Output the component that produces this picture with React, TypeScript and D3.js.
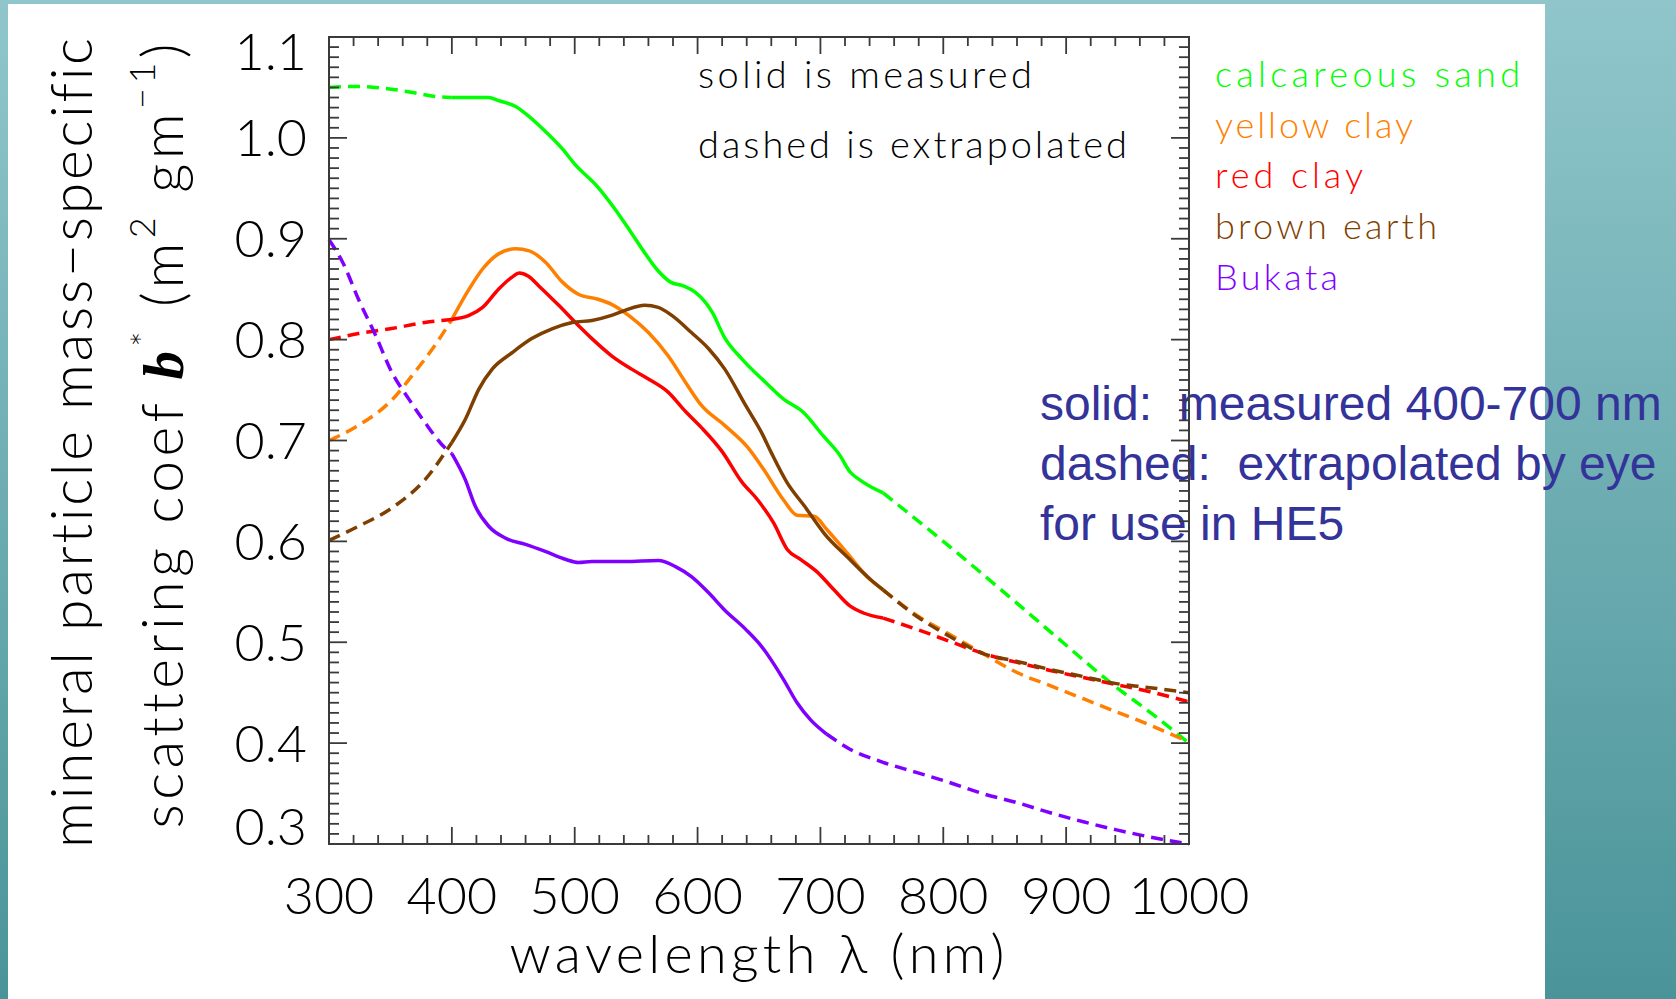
import React from 'react';
import * as d3 from 'd3';

const W = 1676;
const H = 999;

// axis ticks
const xTickValues = [300, 400, 500, 600, 700, 800, 900, 1000];
const xTickLabels = ['300', '400', '500', '600', '700', '800', '900', '1000'];
const yTickValues = [0.3, 0.4, 0.5, 0.6, 0.7, 0.8, 0.9, 1.0, 1.1];
const yTickLabels = ['0.3', '0.4', '0.5', '0.6', '0.7', '0.8', '0.9', '1.0', '1.1'];

// calcareous sand
const sandWl = [300, 320, 346, 368, 387, 400, 430, 438, 452, 460, 473, 490, 500, 519, 533, 546, 557, 568, 578, 589, 598, 612, 622, 636, 655, 670, 686, 702, 716, 724, 732, 751, 800, 850, 900, 936, 970, 1000];
const sandB = [1.050, 1.051, 1.049, 1.045, 1.041, 1.040, 1.040, 1.037, 1.031, 1.024, 1.010, 0.989, 0.974, 0.951, 0.929, 0.906, 0.886, 0.868, 0.857, 0.853, 0.847, 0.827, 0.802, 0.781, 0.758, 0.741, 0.728, 0.705, 0.685, 0.669, 0.661, 0.648, 0.600, 0.549, 0.497, 0.460, 0.429, 0.400];

// yellow clay
const yellowWl = [300, 324, 351, 370, 386, 400, 414, 425, 438, 452, 463, 476, 490, 503, 519, 530, 546, 560, 576, 590, 603, 622, 641, 654, 670, 681, 695, 705, 722, 738, 751, 778, 805, 832, 860, 887, 914, 941, 968, 1000];
const yellowB = [0.700, 0.715, 0.740, 0.768, 0.794, 0.820, 0.850, 0.870, 0.885, 0.890, 0.888, 0.877, 0.857, 0.845, 0.840, 0.835, 0.822, 0.807, 0.784, 0.758, 0.735, 0.715, 0.693, 0.671, 0.641, 0.626, 0.625, 0.612, 0.588, 0.565, 0.552, 0.527, 0.508, 0.489, 0.470, 0.457, 0.444, 0.431, 0.418, 0.401];

// red clay
const redWl = [300, 324, 351, 378, 400, 414, 425, 438, 449, 455, 462, 471, 487, 503, 514, 530, 546, 560, 576, 590, 603, 620, 636, 649, 662, 673, 684, 697, 711, 724, 735, 751, 778, 805, 832, 860, 887, 914, 941, 968, 1000];
const redB = [0.800, 0.806, 0.811, 0.817, 0.820, 0.824, 0.832, 0.850, 0.862, 0.866, 0.863, 0.853, 0.834, 0.814, 0.801, 0.784, 0.771, 0.761, 0.748, 0.729, 0.713, 0.689, 0.659, 0.641, 0.618, 0.592, 0.582, 0.570, 0.552, 0.536, 0.529, 0.524, 0.513, 0.501, 0.489, 0.480, 0.472, 0.465, 0.458, 0.451, 0.441];

// brown earth
const brownWl = [300, 324, 351, 378, 400, 411, 422, 433, 449, 465, 482, 498, 514, 530, 541, 557, 568, 579, 595, 609, 622, 639, 652, 660, 673, 687, 703, 724, 741, 751, 778, 805, 832, 860, 887, 914, 941, 968, 1000];
const brownB = [0.601, 0.615, 0.633, 0.661, 0.698, 0.721, 0.751, 0.771, 0.787, 0.801, 0.811, 0.817, 0.819, 0.824, 0.829, 0.834, 0.832, 0.824, 0.807, 0.791, 0.771, 0.735, 0.708, 0.688, 0.658, 0.635, 0.608, 0.582, 0.562, 0.552, 0.526, 0.506, 0.489, 0.481, 0.473, 0.466, 0.459, 0.455, 0.450];

// Bukata
const bukataWl = [300, 311, 324, 338, 351, 365, 378, 395, 400, 411, 419, 430, 444, 460, 476, 493, 503, 514, 541, 568, 582, 595, 609, 622, 639, 652, 670, 681, 692, 705, 724, 751, 778, 805, 832, 860, 887, 914, 941, 968, 1000];
const bukataB = [0.899, 0.877, 0.840, 0.804, 0.768, 0.741, 0.718, 0.692, 0.687, 0.661, 0.635, 0.615, 0.603, 0.597, 0.590, 0.582, 0.579, 0.580, 0.580, 0.581, 0.575, 0.565, 0.549, 0.532, 0.513, 0.496, 0.463, 0.440, 0.423, 0.409, 0.394, 0.381, 0.371, 0.361, 0.350, 0.341, 0.331, 0.322, 0.314, 0.307, 0.300];

const seriesNames = ['calcareous sand', 'yellow clay', 'red clay', 'brown earth', 'Bukata'];
const seriesColors = ['#00ff00', '#ff7f00', '#ff0000', '#7f3f00', '#7f00ff'];
const seriesWl = [sandWl, yellowWl, redWl, brownWl, bukataWl];
const seriesB = [sandB, yellowB, redB, brownB, bukataB];
const measuredStart = [400, 400, 400, 400, 400];
const measuredEnd = [751, 751, 751, 751, 705];

const legendWidths = [305, 198, 148, 222, 123];
const noteLines = ['solid:  measured 400-700 nm', 'dashed:  extrapolated by eye', 'for use in HE5'];

const HFONT = "Lato, 'DejaVu Sans', sans-serif";
const noLig = { fontVariantLigatures: 'none' as const, whiteSpace: 'pre' as const };

export default function App() {
  const left = 329, right = 1189, top = 37, bottom = 844;
  const x = d3.scaleLinear().domain([300, 1000]).range([left, right]);
  const y = d3.scaleLinear().domain([0.3, 1.1]).range([bottom, top]);

  const line = d3
    .line<[number, number]>()
    .x((d) => x(d[0]))
    .y((d) => y(d[1]))
    .curve(d3.curveMonotoneX);

  const xMinor = d3.range(300, 1001, 20);
  const yMinor = d3.range(30, 111, 1).map((v) => v / 100);

  const series = seriesNames.map((name, i) => {
    const pts: [number, number][] = seriesWl[i].map((w, j) => [w, seriesB[i][j]]);
    const s = measuredStart[i];
    const e = measuredEnd[i];
    return {
      name,
      color: seriesColors[i],
      leftPts: pts.filter((p) => p[0] <= s),
      midPts: pts.filter((p) => p[0] >= s && p[0] <= e),
      rightPts: pts.filter((p) => p[0] >= e),
    };
  });

  const axisColor = '#3a3a3a';

  return (
    <svg
      width={W}
      height={H}
      style={{ position: 'absolute', left: 0, top: 0, display: 'block' }}
      xmlns="http://www.w3.org/2000/svg"
    >
      <defs>
        <linearGradient id="bg" x1="0" y1="0" x2="0" y2="1">
          <stop offset="0" stopColor="#90c6cb" />
          <stop offset="1" stopColor="#4a9499" />
        </linearGradient>
      </defs>
      <rect x={0} y={0} width={W} height={H} fill="url(#bg)" />
      <rect x={8} y={4} width={1537} height={H - 4} fill="#ffffff" />

      {/* blue annotation (under the axes) */}
      {noteLines.map((t, i) => (
        <text
          key={t}
          x={1040}
          y={420 + i * 60}
          fontFamily="'Liberation Sans', Arial, sans-serif"
          fontSize={48}
          fill="#333399"
          style={{ whiteSpace: 'pre' }}
        >
          {t}
        </text>
      ))}

      {/* curves */}
      {series.map((s) => (
        <g key={s.name} fill="none" stroke={s.color} strokeWidth={3.5}>
          <path d={line(s.leftPts) || ''} strokeDasharray="12 7" />
          <path d={line(s.midPts) || ''} />
          <path d={line(s.rightPts) || ''} strokeDasharray="12 7" />
        </g>
      ))}

      {/* frame */}
      <rect x={left} y={top} width={right - left} height={bottom - top} fill="none" stroke={axisColor} strokeWidth={2} />

      {/* x ticks */}
      {xMinor.map((v) => {
        const major = v % 100 === 0;
        const len = major ? 17 : 9;
        return (
          <g key={'xt' + v} stroke={axisColor} strokeWidth={1.8}>
            <line x1={x(v)} x2={x(v)} y1={bottom} y2={bottom - len} />
            <line x1={x(v)} x2={x(v)} y1={top} y2={top + len} />
          </g>
        );
      })}
      {/* y ticks */}
      {yMinor.map((v, i) => {
        const major = i % 10 === 0;
        const len = major ? 18 : 10;
        return (
          <g key={'yt' + i} stroke={axisColor} strokeWidth={1.8}>
            <line x1={left} x2={left + len} y1={y(v)} y2={y(v)} />
            <line x1={right} x2={right - len} y1={y(v)} y2={y(v)} />
          </g>
        );
      })}

      {/* x tick labels */}
      {xTickValues.map((v, i) => (
        <text
          key={'xl' + v}
          x={x(v)}
          y={914}
          textAnchor="middle"
          fontFamily={HFONT}
          fontWeight={300}
          fontSize={52}
          fill="#000"
        >
          {xTickLabels[i]}
        </text>
      ))}
      {/* y tick labels */}
      {yTickValues.map((v, i) => (
        <text
          key={'yl' + v}
          x={307}
          y={Math.min(Math.max(y(v), 51), 826) + 18.5}
          textAnchor="end"
          fontFamily={HFONT}
          fontWeight={300}
          fontSize={52}
          fill="#000"
        >
          {yTickLabels[i]}
        </text>
      ))}

      {/* x title */}
      <text
        x={757}
        y={973}
        textAnchor="middle"
        fontFamily={HFONT}
        fontWeight={300}
        fontSize={54}
        textLength={495}
        lengthAdjust="spacing"
        fill="#000"
        style={noLig}
      >
        wavelength λ (nm)
      </text>

      {/* y title */}
      <text
        transform="translate(92,443) rotate(-90)"
        textAnchor="middle"
        fontFamily={HFONT}
        fontWeight={300}
        fontSize={57}
        textLength={810}
        lengthAdjust="spacing"
        fill="#000"
        style={noLig}
      >
        mineral particle mass−specific
      </text>
      <text
        transform="translate(183,436) rotate(-90)"
        textAnchor="middle"
        fontFamily={HFONT}
        fontWeight={300}
        fontSize={57}
        textLength={785}
        lengthAdjust="spacing"
        fill="#000"
        style={noLig}
      >
        <tspan>scattering coef </tspan>
        <tspan fontFamily="'Liberation Serif', serif" fontStyle="italic" fontWeight="bold">b</tspan>
        <tspan dy={-26} fontSize={36}>*</tspan>
        <tspan dy={26}> (m</tspan>
        <tspan dy={-28} fontSize={36}>2</tspan>
        <tspan dy={28}> gm</tspan>
        <tspan dy={-28} fontSize={36}>−1</tspan>
        <tspan dy={28}>)</tspan>
      </text>

      {/* in-plot notes */}
      <text x={698} y={88} fontFamily={HFONT} fontWeight={300} fontSize={38} textLength={334} lengthAdjust="spacing" fill="#000" style={noLig}>
        solid is measured
      </text>
      <text x={698} y={158} fontFamily={HFONT} fontWeight={300} fontSize={38} textLength={429} lengthAdjust="spacing" fill="#000" style={noLig}>
        dashed is extrapolated
      </text>

      {/* legend */}
      {series.map((s, i) => (
        <text
          key={'lg' + s.name}
          x={1215}
          y={87 + i * 50.7}
          fontFamily={HFONT}
          fontWeight={300}
          fontSize={36}
          textLength={legendWidths[i]}
          lengthAdjust="spacing"
          fill={s.color}
          style={noLig}
        >
          {s.name}
        </text>
      ))}
    </svg>
  );
}
